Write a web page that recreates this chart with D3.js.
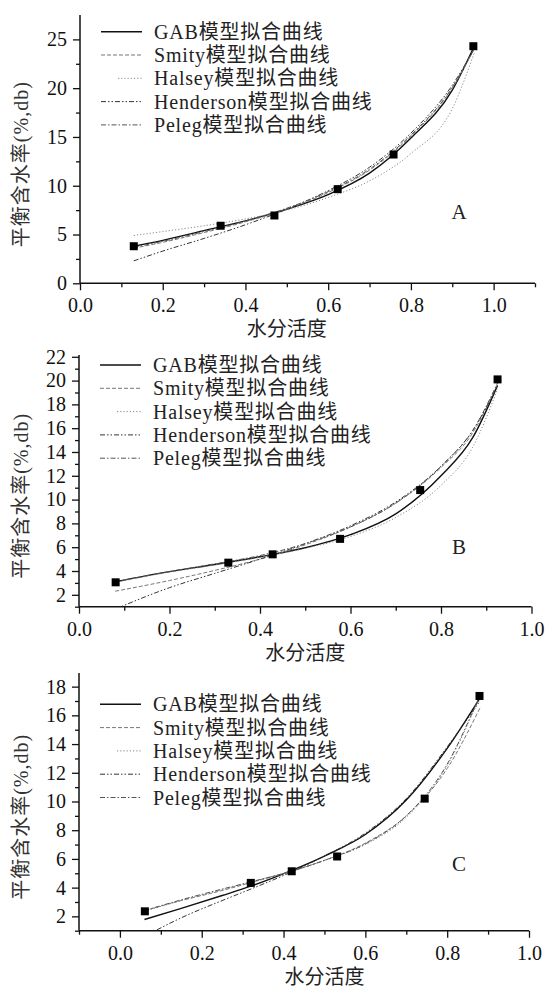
<!DOCTYPE html>
<html>
<head>
<meta charset="utf-8">
<script src="https://cdn.jsdelivr.net/npm/d3@7"></script>
<style>
  body { margin: 0; background: #fff; }
</style>
</head>
<body>
<div id="chart"></div>
<script>
// Model names (legend order)
const models = ["GAB", "Smity", "Halsey", "Henderson", "Peleg"];

// Panel A - measured points
const awA = [0.13, 0.34, 0.47, 0.623, 0.758, 0.951];
const emcA = [3.8, 5.9, 6.95, 9.65, 13.2, 24.3];
// Panel A - fitted curves
const fitAwA = [0.13, 0.2, 0.3, 0.4, 0.5, 0.6, 0.7, 0.8, 0.9, 0.953];
const gabA = [3.8, 4.4, 5.4, 6.4, 7.6, 9.1, 11.3, 14.9, 19.8, 24.3];
const smithA = [3.6, 4.2, 5.2, 6.3, 7.6, 9.3, 11.6, 15.1, 20.0, 24.0];
const halseyA = [4.9, 5.3, 5.9, 6.6, 7.5, 8.8, 10.5, 13.3, 17.9, 23.6];
const hendersonA = [2.3, 3.3, 4.6, 6.0, 7.6, 9.5, 11.9, 15.4, 20.3, 24.0];
const pelegA = [3.7, 4.3, 5.3, 6.4, 7.7, 9.4, 11.7, 15.2, 20.1, 24.1];

// Panel B - measured points
const awB = [0.081, 0.33, 0.428, 0.577, 0.754, 0.925];
const emcB = [3.05, 4.7, 5.4, 6.7, 10.8, 20.1];
// Panel B - fitted curves
const fitAwB = [0.08, 0.2, 0.3, 0.4, 0.5, 0.6, 0.7, 0.8, 0.87, 0.925];
const gabB = [3.1, 3.95, 4.55, 5.2, 5.95, 7.05, 8.8, 12.0, 15.2, 19.6];
const smithB = [2.3, 3.2, 4.05, 5.0, 6.2, 7.7, 9.7, 12.7, 15.6, 19.7];
const halseyB = [3.05, 3.9, 4.5, 5.15, 5.9, 6.9, 8.5, 11.2, 14.4, 19.3];
const hendersonB = [0.8, 2.6, 3.8, 5.0, 6.3, 7.8, 9.8, 12.8, 15.8, 19.6];
const pelegB = [3.1, 3.95, 4.6, 5.3, 6.3, 7.7, 9.7, 12.8, 15.8, 19.8];

// Panel C - measured points
const awC = [0.061, 0.32, 0.42, 0.531, 0.745, 0.879];
const emcC = [2.35, 4.33, 5.14, 6.17, 10.2, 17.35];
// Panel C - fitted curves
const fitAwC = [0.06, 0.15, 0.25, 0.32, 0.42, 0.5, 0.6, 0.7, 0.8, 0.88];
const gabC = [1.78, 2.55, 3.45, 4.1, 5.2, 6.2, 7.7, 10.1, 13.7, 17.2];
const smithC = [2.4, 3.1, 3.8, 4.35, 5.15, 5.9, 7.1, 9.0, 12.3, 16.5];
const halseyC = [2.35, 3.1, 3.85, 4.4, 5.15, 5.9, 7.0, 8.9, 12.5, 17.3];
const hendersonC = [0.6, 1.9, 3.1, 3.9, 5.1, 6.2, 7.8, 10.2, 13.8, 17.0];
const pelegC = [2.4, 3.15, 3.9, 4.4, 5.15, 5.9, 7.05, 9.0, 12.6, 17.4];

// Axis ticks
const xMajor = [0, 0.2, 0.4, 0.6, 0.8, 1.0];
const xMinorA = [0.1, 0.3, 0.5, 0.7, 0.9, 1.1];
const xMinorB = [0.1, 0.3, 0.5, 0.7, 0.9];
const xMinorC = [-0.1, 0.1, 0.3, 0.5, 0.7, 0.9];
const yMajorA = [0, 5, 10, 15, 20, 25];
const yMinorA = [2.5, 7.5, 12.5, 17.5, 22.5];
const yMajorB = [2, 4, 6, 8, 10, 12, 14, 16, 18, 20, 22];
const yMinorB = [1, 3, 5, 7, 9, 11, 13, 15, 17, 19, 21];
const yMajorC = [2, 4, 6, 8, 10, 12, 14, 16, 18];
const yMinorC = [1, 3, 5, 7, 9, 11, 13, 15, 17];

const FONT = "'Liberation Serif', 'Times New Roman', 'Noto Sans CJK SC', serif";

// line styles per model
const styles = {
  GAB:       { color: "#111", width: 1.4, dash: null },
  Smity:     { color: "#777", width: 1, dash: "4,2" },
  Halsey:    { color: "#888", width: 1, dash: "1.2,2" },
  Henderson: { color: "#333", width: 1, dash: "5,2,1.5,2,1.5,2" },
  Peleg:     { color: "#555", width: 1, dash: "5,2,1.5,2" }
};

const panels = [
  { id: "A", left: 80, right: 535, top: 15, bottom: 283.3, xDomain: [0, 1.1], yDomain: [0, 27.5],
    xMinor: xMinorA, yMajor: yMajorA, yMinor: yMinorA, legendTop: 31.7, labelY: 211.7,
    aw: awA, emc: emcA, fitAw: fitAwA, fits: [gabA, smithA, halseyA, hendersonA, pelegA] },
  { id: "B", left: 79, right: 531.5, top: 355, bottom: 606.7, xDomain: [0, 1], yDomain: [1, 22.15],
    xMinor: xMinorB, yMajor: yMajorB, yMinor: yMinorB, legendTop: 365, labelY: 546.7,
    aw: awB, emc: emcB, fitAw: fitAwB, fits: [gabB, smithB, halseyB, hendersonB, pelegB] },
  { id: "C", left: 79, right: 529, top: 673, bottom: 930.7, xDomain: [-0.1, 1], yDomain: [1, 18.95],
    xMinor: xMinorC, yMajor: yMajorC, yMinor: yMinorC, legendTop: 704.3, labelY: 864,
    aw: awC, emc: emcC, fitAw: fitAwC, fits: [gabC, smithC, halseyC, hendersonC, pelegC] }
];

const svg = d3.select("#chart").append("svg")
  .attr("width", 545)
  .attr("height", 989);

panels.forEach(drawPanel);

// force the serif face on every text (axis sets sans-serif on its group)
svg.selectAll("text").style("font-family", FONT);

function drawPanel(p) {
  const x = d3.scaleLinear().domain(p.xDomain).range([p.left, p.right]);
  const y = d3.scaleLinear().domain(p.yDomain).range([p.bottom, p.top]);
  const g = svg.append("g");

  // clip for curves
  g.append("clipPath").attr("id", "clip" + p.id)
    .append("rect")
    .attr("x", p.left).attr("y", p.top - 5)
    .attr("width", p.right - p.left).attr("height", p.bottom - p.top + 5);

  // minor ticks
  g.append("g").attr("transform", `translate(0,${p.bottom})`)
    .call(d3.axisBottom(x).tickValues(p.xMinor).tickSize(4).tickFormat(""))
    .call(a => a.select(".domain").remove());
  g.append("g").attr("transform", `translate(${p.left},0)`)
    .call(d3.axisLeft(y).tickValues(p.yMinor).tickSize(4).tickFormat(""))
    .call(a => a.select(".domain").remove());

  // major axes
  const xAxis = g.append("g").attr("transform", `translate(0,${p.bottom})`)
    .call(d3.axisBottom(x).tickValues(xMajor).tickSize(7).tickSizeOuter(0)
      .tickPadding(8).tickFormat(d3.format(".1f")));
  const yAxis = g.append("g").attr("transform", `translate(${p.left},0)`)
    .call(d3.axisLeft(y).tickValues(p.yMajor).tickSize(7).tickSizeOuter(0)
      .tickPadding(6).tickFormat(d3.format("d")));
  yAxis.select(".domain").attr("d", `M0,${p.bottom}V${p.top}`);
  xAxis.select(".domain").attr("d", `M${p.left},0H${p.right}`);

  g.selectAll(".domain").attr("stroke", "#111").attr("stroke-width", 1.5);
  g.selectAll(".tick line").attr("stroke", "#111").attr("stroke-width", 1.3);
  g.selectAll(".tick text").attr("font-size", 20).attr("fill", "#111");

  // axis titles
  g.append("text")
    .attr("x", x(0.5)).attr("y", p.bottom + 46)
    .attr("text-anchor", "middle").attr("dy", "0.35em")
    .attr("font-size", 20).attr("fill", "#222")
    .text("水分活度");
  g.append("text")
    .attr("transform", `translate(21,${(p.top + p.bottom) / 2 + 15}) rotate(-90)`)
    .attr("text-anchor", "middle").attr("dy", "0.35em")
    .attr("font-size", 20).attr("letter-spacing", 1)
    .attr("fill", "#333")
    .text("平衡含水率(%,db)");

  // fitted curves
  const line = d3.line()
    .x(d => x(d[0]))
    .y(d => y(d[1]))
    .curve(d3.curveMonotoneX);

  models.forEach((m, i) => {
    const s = styles[m];
    const pts = p.fitAw.map((a, j) => [a, p.fits[i][j]]);
    g.append("path")
      .datum(pts)
      .attr("clip-path", `url(#clip${p.id})`)
      .attr("fill", "none")
      .attr("stroke", s.color)
      .attr("stroke-width", s.width)
      .attr("stroke-dasharray", s.dash)
      .attr("d", line);
  });

  // measured points
  g.selectAll(".pt")
    .data(p.aw.map((a, j) => [a, p.emc[j]]))
    .join("rect")
    .attr("class", "pt")
    .attr("x", d => x(d[0]) - 4)
    .attr("y", d => y(d[1]) - 4)
    .attr("width", 8)
    .attr("height", 8)
    .attr("fill", "#000");

  // legend
  const leg = g.append("g");
  models.forEach((m, i) => {
    const s = styles[m];
    const ly = p.legendTop + i * 23.3;
    leg.append("line")
      .attr("x1", m === "Halsey" ? p.left + 38 : p.left + 21)
      .attr("x2", p.left + 62)
      .attr("y1", ly).attr("y2", ly)
      .attr("stroke", s.color)
      .attr("stroke-width", s.width)
      .attr("stroke-dasharray", s.dash);
    leg.append("text")
      .attr("x", p.left + 74)
      .attr("y", ly)
      .attr("dy", "0.35em")
      .attr("font-size", 20)
      .attr("letter-spacing", 0.8)
      .attr("fill", "#222")
      .text(m + "模型拟合曲线");
  });

  // panel letter
  g.append("text")
    .attr("x", 459).attr("y", p.labelY)
    .attr("text-anchor", "middle").attr("dy", "0.35em")
    .attr("font-size", 21).attr("fill", "#222")
    .text(p.id);
}
</script>
</body>
</html>
